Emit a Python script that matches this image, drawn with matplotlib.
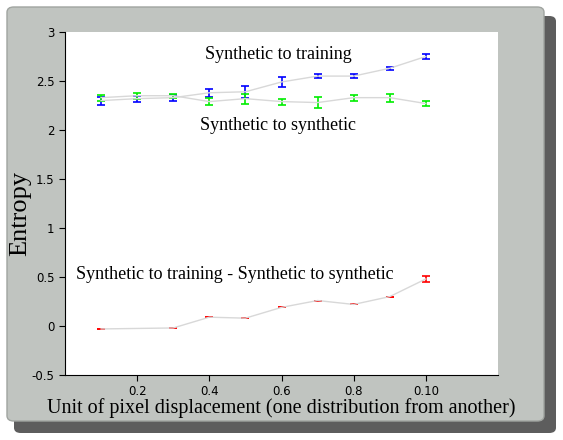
import matplotlib
matplotlib.use("Agg")
import matplotlib.pyplot as plt
from matplotlib.patches import FancyBboxPatch

x = [0.1,0.2,0.3,0.4,0.5,0.6,0.7,0.8,0.9,1.0]
train = [2.30,2.32,2.33,2.38,2.39,2.49,2.55,2.55,2.63,2.75]
train_err = [0.04,0.03,0.03,0.04,0.06,0.05,0.02,0.02,0.015,0.03]
synth = [2.33,2.35,2.35,2.29,2.32,2.29,2.28,2.33,2.33,2.27]
synth_err = [0.03,0.03,0.02,0.04,0.05,0.03,0.06,0.03,0.04,0.03]
dx = [0.1,0.3,0.4,0.5,0.6,0.7,0.8,0.9,1.0]
diff = [-0.03,-0.02,0.09,0.08,0.19,0.26,0.22,0.30,0.48]
diff_err = [0.0,0.0,0.0,0.0,0.0,0.0,0.0,0.0,0.03]
xticks = [0.2,0.4,0.6,0.8,1.0]
xticklabels = ["0.2","0.4","0.6","0.8","0.10"]

W, H = 563, 440
fig = plt.figure(figsize=(W/100, H/100), dpi=100)
fig.patch.set_facecolor("white")
def box(x0, y0, x1, y1, **k):
    return FancyBboxPatch((x0/W, 1-y1/H), (x1-x0)/W, (y1-y0)/H,
        boxstyle="round,pad=0,rounding_size=0.012", transform=fig.transFigure, **k)
fig.patches.append(box(14, 16, 556, 433, facecolor="#404040", edgecolor="none", alpha=0.85, zorder=0))
fig.patches.append(box(7, 7, 544, 421, facecolor="#c0c4c0", edgecolor="#a0a4a0", zorder=1))
ax = fig.add_axes([65/W, 1-375/H, 433/W, 343/H])
ax.set_zorder(2)
ax.set_facecolor("white")
for s in ["top", "right"]:
    ax.spines[s].set_visible(False)
kw = dict(color="#d8d8d8", lw=1, capsize=3, elinewidth=1.2, capthick=1.2)
ax.errorbar(x, train, yerr=train_err, ecolor="blue", **kw)
ax.errorbar(x, synth, yerr=synth_err, ecolor="#00ee00", **kw)
ax.errorbar(dx, diff, yerr=diff_err, ecolor="red", **kw)
ax.set_xlim(0, 1.2); ax.set_ylim(-0.5, 3)
ax.set_xticks(xticks); ax.set_xticklabels(xticklabels)
ax.tick_params(labelsize=8.5, direction="out", length=4)
ax.set_yticks([-0.5,0,0.5,1,1.5,2,2.5,3])
ax.set_yticklabels(["-0.5","0","0.5","1","1.5","2","2.5","3"])
f = dict(family="Liberation Serif")
ax.text(0.59, 2.72, "Synthetic to training", fontsize=13, ha="center", **f)
ax.text(0.59, 2.0, "Synthetic to synthetic", fontsize=13, ha="center", **f)
ax.text(0.03, 0.48, "Synthetic to training - Synthetic to synthetic", fontsize=13, ha="left", **f)
ax.set_ylabel("Entropy", fontsize=19, **f)
ax.yaxis.set_label_coords(-0.078, 0.47)
ax.set_xlabel("Unit of pixel displacement (one distribution from another)", fontsize=14.5, labelpad=0, **f)
fig.savefig("out.png", dpi=100)
